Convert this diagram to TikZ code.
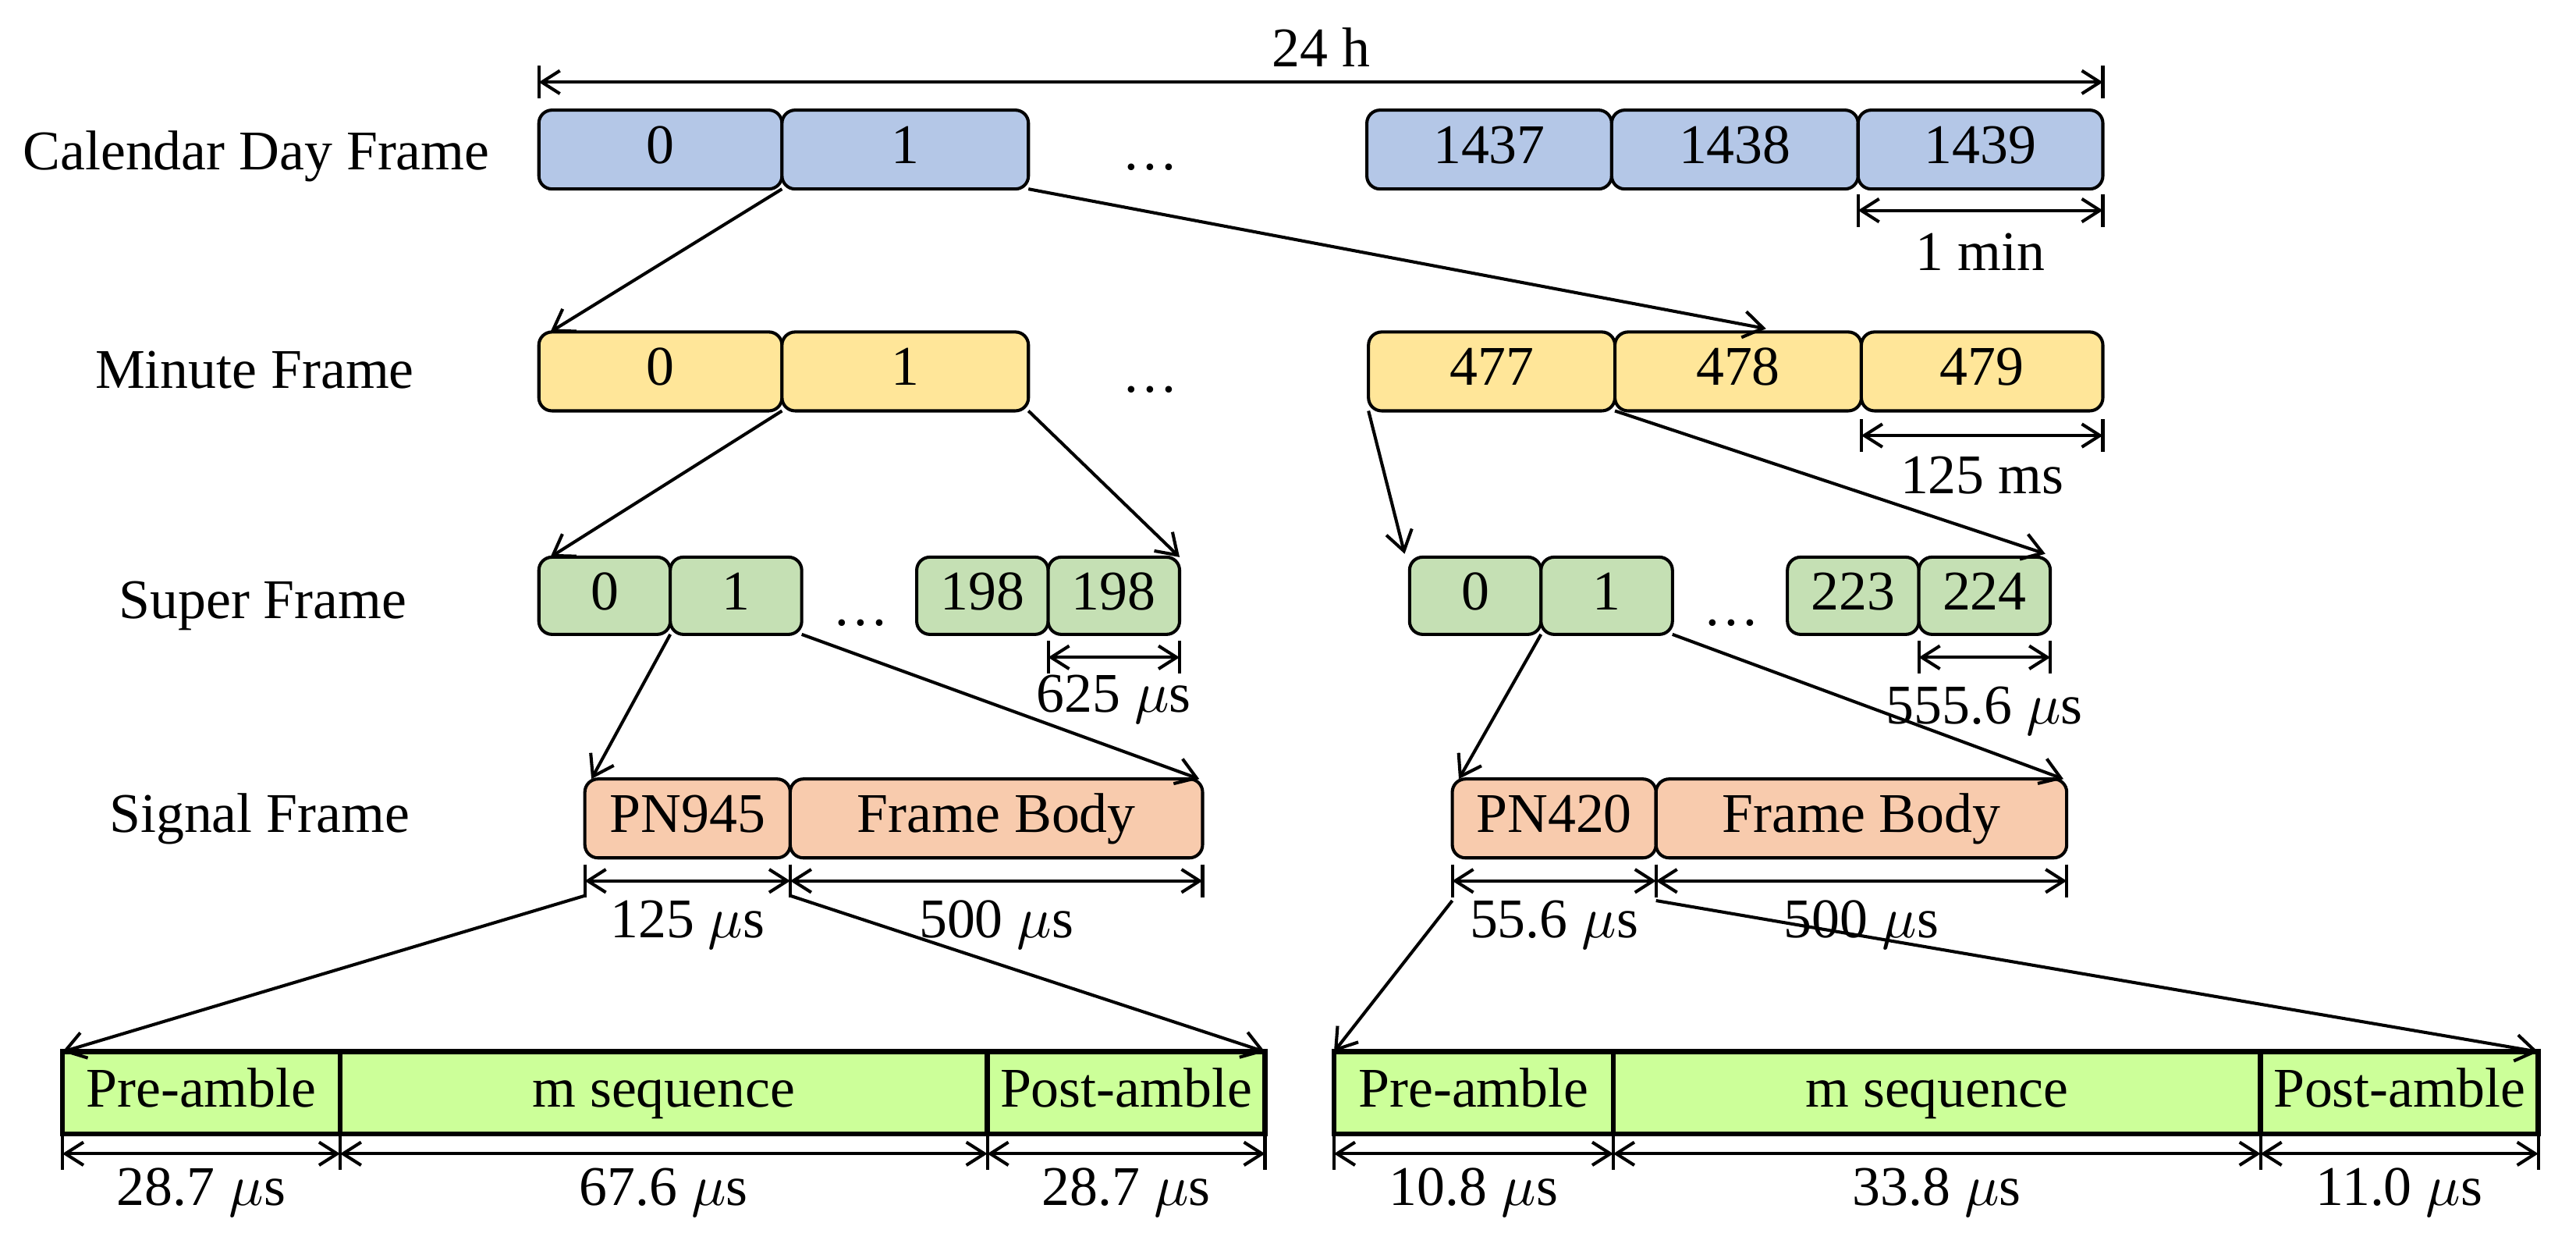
\documentclass[tikz,border=0pt]{standalone}
\usepackage{fontspec}
\setmainfont{Liberation Serif}
\usetikzlibrary{arrows.meta}
\definecolor{cblue}{HTML}{B4C7E7}
\definecolor{cyel}{HTML}{FFE699}
\definecolor{cgrn}{HTML}{C5E0B4}
\definecolor{corg}{HTML}{F8CBAD}
\definecolor{clime}{HTML}{CCFF99}
\newcommand\mybox[7]{\node[#6, minimum width={(#3-#2)*0.1mm}, minimum height={(#5-#4)*0.1mm}] (#1) at ({(#2+#3)/2},{(#4+#5)/2}) {#7};}
\newcommand\dimar[8]{%
\coordinate (#8a) at (#2,#1); \coordinate (#8b) at (#3,#1);
\draw[tick] (#2,#4) -- (#2,#5); \draw[tick] (#3,#4) -- (#3,#5);
\draw[dim] (#8a) -- (#8b);
\node[lbl] (#8l) at ({(#2+#3)/2},#6) {#7};}
\tikzset{
 fnt/.style={font=\fontsize{9.7}{11.5}\selectfont, text height=0.7em, text depth=0.22em},
 fr/.style={fnt, draw=black, line width=0.55pt, rounded corners=0.8mm, inner sep=0pt, outer sep=0pt},
 bt/.style={fnt, draw=black, line width=0.9pt, inner sep=0pt, outer sep=0pt, fill=clime},
 lbl/.style={fnt, inner sep=0pt},
 rowlbl/.style={fnt, inner sep=0pt},
 conn/.style={line width=0.55pt, -{Straight Barb[length=1.2mm,width=1.6mm]}},
 dim/.style={line width=0.55pt, {Straight Barb[length=1.1mm,width=1.4mm]}-{Straight Barb[length=1.1mm,width=1.4mm]}},
 tick/.style={line width=0.55pt},
}
\begin{document}
\begin{tikzpicture}[x=0.1mm,y=-0.1mm]
\useasboundingbox (0,0) rectangle (1568,761);
\node[rowlbl] (l1) at (156,95) {Calendar Day Frame};
\node[rowlbl] (l2) at (155,228) {Minute Frame};
\node[rowlbl] (l3) at (160,368) {Super Frame};
\node[rowlbl] (l4) at (158,498) {Signal Frame};
\dimar{50}{328}{1280}{40}{60}{32}{24 h}{dh}
\mybox{c0}{328}{476}{67}{115}{fr,fill=cblue}{0}
\mybox{c1}{476}{626}{67}{115}{fr,fill=cblue}{1}
\node[lbl] (cd) at (700,95) {\dots};
\mybox{c2}{832}{981}{67}{115}{fr,fill=cblue}{1437}
\mybox{c3}{981}{1131}{67}{115}{fr,fill=cblue}{1438}
\mybox{c4}{1131}{1280}{67}{115}{fr,fill=cblue}{1439}
\dimar{128}{1131}{1280}{118}{138}{156}{1 min}{dm}
\mybox{m0}{328}{476}{202}{250}{fr,fill=cyel}{0}
\mybox{m1}{476}{626}{202}{250}{fr,fill=cyel}{1}
\node[lbl] (md) at (700,230) {\dots};
\mybox{m2}{833}{983}{202}{250}{fr,fill=cyel}{477}
\mybox{m3}{983}{1133}{202}{250}{fr,fill=cyel}{478}
\mybox{m4}{1133}{1280}{202}{250}{fr,fill=cyel}{479}
\dimar{265}{1133}{1280}{255}{275}{292}{125 ms}{dms}
\draw[conn] (c1.south west) -- ([xshift=0.7mm]m0.north west);
\draw[conn] (c1.south east) -- (1075,200) coordinate (t1);
\mybox{s0}{328}{408}{339}{386}{fr,fill=cgrn}{0}
\mybox{s1}{408}{488}{339}{386}{fr,fill=cgrn}{1}
\node[lbl] (sd1) at (524,372) {\dots};
\mybox{s2}{558}{638}{339}{386}{fr,fill=cgrn}{198}
\mybox{s3}{638}{718}{339}{386}{fr,fill=cgrn}{198}
\mybox{r0}{858}{938}{339}{386}{fr,fill=cgrn}{0}
\mybox{r1}{938}{1018}{339}{386}{fr,fill=cgrn}{1}
\node[lbl] (sd2) at (1054,372) {\dots};
\mybox{r2}{1088}{1168}{339}{386}{fr,fill=cgrn}{223}
\mybox{r3}{1168}{1248}{339}{386}{fr,fill=cgrn}{224}
\dimar{400}{638}{718}{390}{410}{425}{625 $\mu$s}{d625}
\dimar{400}{1168}{1248}{390}{410}{432}{555.6 $\mu$s}{d555}
\draw[conn] (m1.south west) -- ([xshift=0.7mm]s0.north west);
\draw[conn] (m1.south east) -- (s3.north east);
\draw[conn] (m2.south west) -- (855,337) coordinate (t2);
\draw[conn] (m3.south west) -- (1245,337) coordinate (t3);
\mybox{p0}{356}{481}{474}{522}{fr,fill=corg}{PN945}
\mybox{p1}{481}{732}{474}{522}{fr,fill=corg}{Frame Body}
\mybox{q0}{884}{1008}{474}{522}{fr,fill=corg}{PN420}
\mybox{q1}{1008}{1258}{474}{522}{fr,fill=corg}{Frame Body}
\draw[conn] (s1.south west) -- ([xshift=0.4mm]p0.north west);
\draw[conn] (s1.south east) -- ([xshift=-0.2mm]p1.north east);
\draw[conn] (r1.south west) -- ([xshift=0.4mm]q0.north west);
\draw[conn] (r1.south east) -- ([xshift=-0.2mm]q1.north east);
\dimar{536}{356}{481}{526}{546}{562}{125 $\mu$s}{e1}
\dimar{536}{481}{732}{526}{546}{562}{500 $\mu$s}{e2}
\dimar{536}{884}{1008}{526}{546}{562}{55.6 $\mu$s}{e3}
\dimar{536}{1008}{1258}{526}{546}{562}{500 $\mu$s}{e4}
\mybox{b0}{38}{207}{640}{690}{bt}{Pre-amble}
\mybox{b1}{207}{601}{640}{690}{bt}{m sequence}
\mybox{b2}{601}{770}{640}{690}{bt}{Post-amble}
\mybox{g0}{812}{982}{640}{690}{bt}{Pre-amble}
\mybox{g1}{982}{1376}{640}{690}{bt}{m sequence}
\mybox{g2}{1376}{1545}{640}{690}{bt}{Post-amble}
\coordinate (u1) at (356,545); \coordinate (u2) at (481,545);
\coordinate (u3) at (884,548); \coordinate (u4) at (1008,548);
\draw[conn] (u1) -- (b0.north west);
\draw[conn] (u2) -- (b2.north east);
\draw[conn] (u3) -- (g0.north west);
\draw[conn] (u4) -- (g2.north east);
\dimar{702}{38}{207}{690}{712}{725}{28.7 $\mu$s}{f1}
\dimar{702}{207}{601}{690}{712}{725}{67.6 $\mu$s}{f2}
\dimar{702}{601}{770}{690}{712}{725}{28.7 $\mu$s}{f3}
\dimar{702}{812}{982}{690}{712}{725}{10.8 $\mu$s}{f4}
\dimar{702}{982}{1376}{690}{712}{725}{33.8 $\mu$s}{f5}
\dimar{702}{1376}{1545}{690}{712}{725}{11.0 $\mu$s}{f6}
\end{tikzpicture}
\end{document}
